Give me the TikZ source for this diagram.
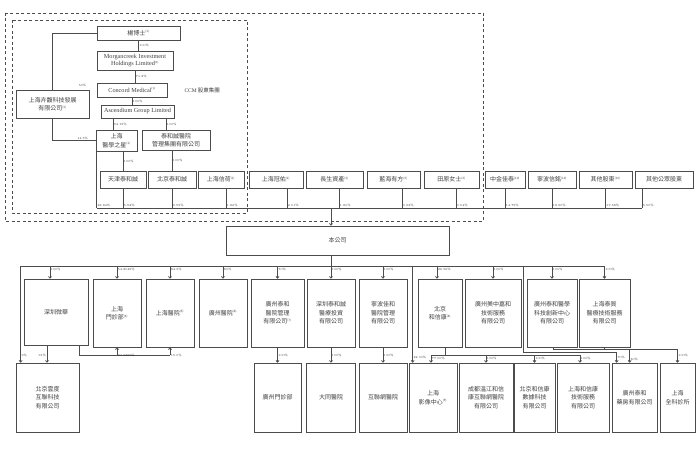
\documentclass[tikz,border=0pt]{standalone}
\usepackage{fontspec}
\newfontfamily\cjk{Noto Sans CJK TC}
\newfontfamily\latinserif{Liberation Serif}
\usetikzlibrary{arrows.meta}
\newcommand\refmark[1]{\textsuperscript{\fontsize{3}{3}\selectfont(#1)}}
\tikzset{
  ent/.style={draw=black!70, line width=0.75pt, inner sep=1pt, align=center,
    text=black!75, font=\cjk\fontsize{6}{8.5}\selectfont},
  latin/.style={font=\latinserif\fontsize{6.2}{7.2}\selectfont},
  sz/.style 2 args={minimum width=#1pt, minimum height=#2pt},
  pct/.style={font=\fontsize{3}{3}\selectfont, inner sep=0.6pt, anchor=west, text=black!80},
  ln/.style={draw=black!70, line width=0.75pt},
  grp/.style={draw=black!70, line width=0.8pt, dash pattern=on 3pt off 2.5pt},
}
\begin{document}
\begin{tikzpicture}[x=1pt, y=-1pt, >={To[length=2.5pt,width=3.5pt]}]
\useasboundingbox[fill=white] (0,0) rectangle (700,457);
% shareholder groups
\path[grp] (5,13) rectangle (483,221);
\path[grp] (12,20) rectangle (247,213);

\node[ent, sz={83}{14}] (yang) at (138.5,33) {楊博士\refmark{1}};
\node[ent, latin, sz={76}{19}] (morgan) at (135,60.5) {Morgancreek Investment\\Holdings Limited\refmark{2}};
\node[ent, latin, sz={70}{14}] (concord) at (132,90) {Concord Medical\refmark{1}};
\node[anchor=west, text=black!75, font=\cjk\fontsize{5.5}{6}\selectfont] (ccm) at (181,90) {{\latinserif CCM} 股東集團};
\node[ent, latin, sz={73}{13}] (ascend) at (137.5,111.5) {Ascendium Group Limited};
\node[ent, sz={73}{28}] (huifu) at (52.5,104) {上海卉馥科技發展\\有限公司\refmark{3}};
\node[ent, sz={41}{21}] (star) at (116.5,140.5) {上海\\醫學之星\refmark{1}};
\node[ent, sz={68}{20}] (taihe) at (176,140) {泰和誠醫院\\管理集團有限公司};

\draw[ln] (yang.south) -- (yang.south |- morgan.north) node[pct,midway]{100\%};
\draw[ln] (morgan.south) -- (morgan.south |- concord.north) node[pct,midway]{71.2\%};
\draw[ln] (concord.south) -- (concord.south |- ascend.north) node[pct,midway]{100\%};
\coordinate (starN) at ([xshift=-3.5pt]star.north);
\draw[ln] (starN |- ascend.south) -- (starN) node[pct,midway]{94.19\%};
\coordinate (taiheN) at ([xshift=-10pt]taihe.north);
\draw[ln] (taiheN |- ascend.south) -- (taiheN) node[pct,midway]{100\%};
\draw[ln] (yang.west) -| (huifu.north);
\node[pct] (p50) at (78,85) {50\%};
\draw[ln] (huifu.south) |- (star.west) node[pct,anchor=south,pos=.85]{14.5\%};

% shareholders of the company
\node[ent, sz={46}{17}] (tianjin) at (123,179.5) {天津泰和誠};
\node[ent, sz={48}{17}] (beijing) at (172,179.5) {北京泰和誠};
\node[ent, sz={46}{17}] (xinhe) at (221,179.5) {上海信荷\refmark{1}};
\node[ent, sz={54}{17}] (guanyou) at (276,179.5) {上海冠佑\refmark{1}};
\node[ent, sz={57}{17}] (changsheng) at (334.5,179.5) {長生資產\refmark{3}};
\node[ent, sz={53}{17}] (lanhai) at (393.5,179.5) {藍海有方\refmark{3}};
\node[ent, sz={55}{17}] (tianyuan) at (451.5,179.5) {田原女士\refmark{3}};
\node[ent, sz={40}{17}] (zhongjin) at (505,179.5) {中金佳泰\refmark{10}};
\node[ent, sz={48}{17}] (ningbo) at (552,179.5) {寧波信銘\refmark{10}};
\node[ent, sz={53}{17}] (others) at (605.5,179.5) {其他股東\refmark{10}};
\node[ent, sz={58}{17}] (public) at (664,179.5) {其他公眾股東};

\draw[ln] (star.south -| tianjin.north) -- (tianjin.north) node[pct,midway]{100\%};
\draw[ln] (taihe.south -| beijing.north) -- (beijing.north) node[pct,midway]{100\%};

\coordinate (busA) at (0,208);
\coordinate (starL) at ([xshift=1pt]star.south west);
\coordinate (xinheS) at ([xshift=5pt]xinhe.south);
\coordinate (guanyouS) at ([xshift=11pt]guanyou.south);
\coordinate (changshengS) at ([xshift=4.5pt]changsheng.south);
\coordinate (lanhaiS) at ([xshift=8.5pt]lanhai.south);
\coordinate (tianyuanS) at ([xshift=4.5pt]tianyuan.south);
\coordinate (publicS) at ([xshift=-22pt]public.south);
\draw[ln] (starL) -- (starL |- busA) node[pct,pos=.96]{26.84\%};
\draw[ln] (tianjin.south) -- (tianjin.south |- busA) node[pct,pos=.88]{5.92\%};
\draw[ln] (beijing.south) -- (beijing.south |- busA) node[pct,pos=.88]{9.55\%};
\draw[ln] (xinheS) -- (xinheS |- busA) node[pct,pos=.88]{1.86\%};
\draw[ln] (guanyouS) -- (guanyouS |- busA) node[pct,pos=.88]{2.01\%};
\draw[ln] (changshengS) -- (changshengS |- busA) node[pct,pos=.88]{1.80\%};
\draw[ln] (lanhaiS) -- (lanhaiS |- busA) node[pct,pos=.88]{0.93\%};
\draw[ln] (tianyuanS) -- (tianyuanS |- busA) node[pct,pos=.88]{0.54\%};
\draw[ln] (zhongjin.south) -- (zhongjin.south |- busA) node[pct,pos=.88]{14.75\%};
\draw[ln] (ningbo.south) -- (ningbo.south |- busA) node[pct,pos=.88]{18.90\%};
\draw[ln] (others.south) -- (others.south |- busA) node[pct,pos=.88]{19.58\%};
\draw[ln] (publicS) -- (publicS |- busA) node[pct,pos=.88]{5.50\%};
\draw[ln] (starL |- busA) -- (publicS |- busA);

\node[ent, sz={223}{29}] (company) at (337.5,240.5) {本公司};

% subsidiaries
\node[ent, sz={64}{66}] (weihua) at (56,312) {深圳微華};
\node[ent, sz={48}{68}] (mzb) at (117,313) {上海\\門診部\refmark{4}};
\node[ent, sz={48}{68}] (shhosp) at (170,313) {上海醫院\refmark{5}};
\node[ent, sz={48}{68}] (gzhosp) at (223,313) {廣州醫院\refmark{6}};
\node[ent, sz={53}{68}] (gzmgmt) at (277.5,313) {廣州泰和\\醫院管理\\有限公司\refmark{7}};
\node[ent, sz={48}{68}] (szinv) at (331,313) {深圳泰和誠\\醫療投資\\有限公司};
\node[ent, sz={48}{68}] (nbmgmt) at (383,313) {寧波佳和\\醫院管理\\有限公司};
\node[ent, sz={44}{68}] (hexin) at (440,313) {北京\\和信康\refmark{8}};
\node[ent, sz={56}{68}] (meizhong) at (493,313) {廣州美中嘉和\\技術服務\\有限公司};
\node[ent, sz={50}{68}] (innov) at (552,313) {廣州泰和醫學\\科技創新中心\\有限公司};
\node[ent, sz={51}{68}] (taizhi) at (604.5,313) {上海泰質\\醫療技術服務\\有限公司};

\node[ent, sz={63}{69}] (yundu) at (47.5,397.5) {北京雲度\\互聯科技\\有限公司};
\node[ent, sz={47}{69}] (gzclinic) at (277.5,397.5) {廣州門診部};
\node[ent, sz={49}{69}] (datong) at (331,397.5) {大同醫院};
\node[ent, sz={48}{69}] (inethosp) at (383,397.5) {互聯網醫院};
\node[ent, sz={48}{69}] (imaging) at (433,397.5) {上海\\影像中心\refmark{9}};
\node[ent, sz={54}{69}] (chengdu) at (486,397.5) {成都溫江和信\\康互聯網醫院\\有限公司};
\node[ent, sz={41}{69}] (hxdata) at (534.5,397.5) {北京和信康\\數據科技\\有限公司};
\node[ent, sz={52}{69}] (hxtech) at (583,397.5) {上海和信康\\技術服務\\有限公司};
\node[ent, sz={45}{69}] (pharmacy) at (634.5,397.5) {廣州泰和\\藥房有限公司};
\node[ent, sz={35}{69}] (gp) at (677.5,397.5) {上海\\全科診所};

\draw[ln,->] (szinv.north |- busA) -- (company.north -| szinv.north);
\coordinate (busB) at (0,266);
\draw[ln] (company.south -| szinv.north) -- (szinv.north |- busB);
\coordinate (yunduA) at ([xshift=5pt]yundu.north west);
\draw[ln,->] (taizhi.north |- busB) -| (yunduA) node[pct,pos=.965]{9\%};

\coordinate (weihuaN) at ([xshift=-6pt]weihua.north);
\draw[ln,->] (weihuaN |- busB) -- (weihuaN) node[pct,pos=.3]{100\%};
\draw[ln,->] (mzb.north |- busB) -- (mzb.north) node[pct,pos=.3]{54.8049\%};
\draw[ln,->] (shhosp.north |- busB) -- (shhosp.north) node[pct,pos=.3]{84.5\%};
\draw[ln,->] (gzhosp.north |- busB) -- (gzhosp.north) node[pct,pos=.3]{80\%};
\draw[ln,->] (gzmgmt.north |- busB) -- (gzmgmt.north) node[pct,pos=.3]{70\%};
\draw[ln,->] (szinv.north |- busB) -- (szinv.north) node[pct,pos=.3]{100\%};
\draw[ln,->] (nbmgmt.north |- busB) -- (nbmgmt.north) node[pct,pos=.3]{100\%};
\coordinate (hexinN) at ([xshift=-3pt]hexin.north);
\draw[ln,->] (hexinN |- busB) -- (hexinN) node[pct,pos=.3]{26.56\%};
\draw[ln,->] (meizhong.north |- busB) -- (meizhong.north) node[pct,pos=.3]{100\%};
\draw[ln,->] (innov.north |- busB) -- (innov.north) node[pct,pos=.3]{100\%};
\draw[ln,->] (taizhi.north |- busB) -- (taizhi.north) node[pct,pos=.3]{100\%};

% second level
\coordinate (wS1) at ([xshift=-9pt]weihua.south);
\draw[ln,->] (wS1) -- (wS1 |- yundu.north) node[pct,anchor=east,pos=.6]{91\%};
\coordinate (wbar) at (0,355);
\coordinate (wS2) at ([xshift=-9pt]weihua.south east);
\draw[ln] (wS2) |- (shhosp.south |- wbar);
\draw[ln,->] (mzb.south |- wbar) -- (mzb.south) node[pct,pos=0]{31.6366\%};
\draw[ln,->] (shhosp.south |- wbar) -- (shhosp.south) node[pct,pos=0]{15.0\%};

\draw[ln,->] (gzmgmt.south -| gzclinic.north) -- (gzclinic.north) node[pct,pos=.5]{100\%};
\draw[ln,->] (szinv.south -| datong.north) -- (datong.north) node[pct,pos=.5]{100\%};
\draw[ln,->] (nbmgmt.south -| inethosp.north) -- (inethosp.north) node[pct,pos=.5]{100\%};

\coordinate (imgA) at ([xshift=4pt]imaging.north west);
\draw[ln,->] (imgA |- busB) -- (imgA) node[pct,pos=.95]{22.00\%};
\coordinate (hxbar) at (0,355);
\coordinate (hxS) at ([xshift=5pt]hexin.south);
\coordinate (imgB) at ([xshift=-2pt]imaging.north);
\coordinate (hxtechN) at ([xshift=-3pt]hxtech.north);
\draw[ln] (hxS) -- (hxS |- hxbar);
\draw[ln] (imgB |- hxbar) -- (hxtechN |- hxbar);
\draw[ln,->] (imgB |- hxbar) -- (imgB) node[pct,pos=.45]{77.00\%};
\draw[ln,->] (chengdu.north |- hxbar) -- (chengdu.north) node[pct,pos=.45]{100\%};
\draw[ln,->] (hxdata.north |- hxbar) -- (hxdata.north) node[pct,pos=.45]{100\%};
\draw[ln,->] (hxtechN |- hxbar) -- (hxtechN) node[pct,pos=.45]{100\%};

\coordinate (cbar) at (0,352);
\coordinate (cmpB) at (523,266);
\coordinate (phA) at ([xshift=5pt]pharmacy.north west);
\coordinate (phB) at ([xshift=18pt]pharmacy.north west);
\draw[ln,->] (cmpB) |- (phA |- cbar) -- (phA) node[pct,pos=.5]{70\%};
\coordinate (ibar) at (0,349);
\coordinate (inS) at ([xshift=1pt]innov.south);
\draw[ln,->] (inS) |- (gp.north |- ibar) -- (gp.north) node[pct,pos=.5]{100\%};
\draw[ln,->] (taizhi.south) -- ++(0,1.5) -| (phB) node[pct,pos=.9]{30\%};
\end{tikzpicture}
\end{document}
